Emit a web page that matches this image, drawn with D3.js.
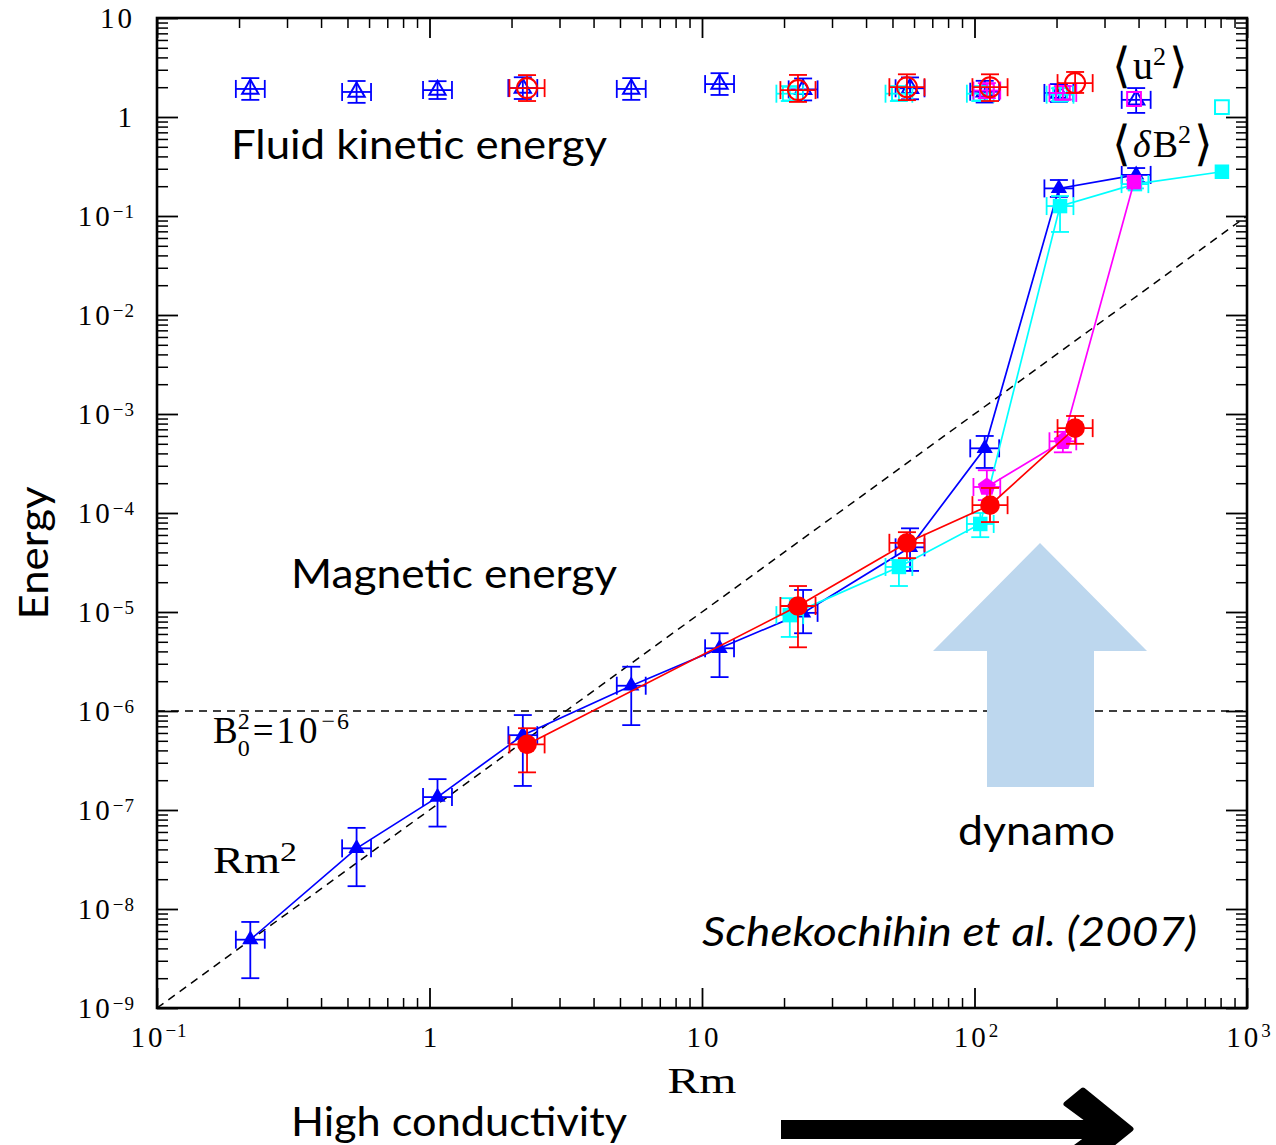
<!DOCTYPE html>
<html>
<head>
<meta charset="utf-8">
<script src="https://cdn.jsdelivr.net/npm/d3@7"></script>
<style>
  html, body { margin: 0; padding: 0; background: #fff; }
  svg { display: block; }
</style>
</head>
<body>
<svg id="chart" width="1276" height="1145"></svg>
<script>
// ---------------------------------------------------------------
// Energy vs magnetic Reynolds number Rm (log-log)
// Filled symbols: magnetic energy <dB^2>; open symbols: kinetic <u^2>
// ---------------------------------------------------------------

// Run set 1 (blue triangles)
const blueRm     = [0.22, 0.54, 1.07, 2.2, 5.5, 11.6, 23.5, 58, 109, 204, 392];
const blueMag    = [4.9e-9, 4.1e-8, 1.35e-7, 5.7e-7, 1.8e-6, 4.3e-6, 9.8e-6, 4.5e-5, 4.5e-4, 0.19, 0.26];
const blueMagLo  = [2.0e-9, 1.7e-8, 6.8e-8, 1.75e-7, 7.2e-7, 2.2e-6, 6.1e-6, 2.6e-5, 2.85e-4, 0.156, 0.22];
const blueMagHi  = [7.4e-9, 6.6e-8, 2.05e-7, 9.1e-7, 2.8e-6, 6.1e-6, 1.67e-5, 7.0e-5, 6.0e-4, 0.231, 0.305];
const blueKin    = [1.92, 1.79, 1.87, 1.96, 1.92, 2.15, 1.9, 1.95, 1.8, 1.75, 1.49];
const blueKinLo  = [1.49, 1.39, 1.52, 1.52, 1.49, 1.67, 1.47, 1.51, 1.40, 1.42, 1.10];
const blueKinHi  = [2.47, 2.31, 2.30, 2.52, 2.47, 2.77, 2.45, 2.51, 2.32, 2.15, 1.96];

// Run set 2 (red circles)
const redRm      = [2.28, 22.5, 56.5, 114, 234];
const redMag     = [4.6e-7, 1.15e-5, 5.0e-5, 1.2e-4, 7.2e-4];
const redMagLo   = [2.4e-7, 4.4e-6, 3.5e-5, 8.1e-5, 5.0e-4];
const redMagHi   = [6.7e-7, 1.83e-5, 6.4e-5, 1.79e-4, 9.55e-4];
const redKin     = [1.96, 1.87, 2.0, 2.0, 2.2];
const redKinLo   = [1.45, 1.42, 1.48, 1.45, 1.75];
const redKinHi   = [2.65, 2.66, 2.7, 2.7, 2.85];

// Run set 3 (cyan squares)
const cyanRm     = [21, 52.8, 105, 206, 388, 809];
const cyanMag    = [9.3e-6, 2.85e-5, 7.75e-5, 0.126, 0.21, 0.28];
const cyanMagLo  = [5.6e-6, 1.83e-5, 5.7e-5, 0.069, 0.19, null];
const cyanMagHi  = [1.38e-5, 3.35e-5, 1.0e-4, 0.159, 0.23, null];
const cyanKinRm  = [21, 52.8, 105, 206, 809];
const cyanKin    = [1.72, 1.72, 1.72, 1.68, 1.26];
const cyanKinLo  = [1.45, 1.45, 1.45, 1.45, null];
const cyanKinHi  = [2.05, 2.05, 2.05, 1.95, null];

// Run set 4 (magenta)
const magentaRm    = [111, 211, 385];
const magentaMag   = [1.83e-4, 5.3e-4, 0.22];
const magentaMagLo = [1.35e-4, 4.1e-4, null];
const magentaMagHi = [2.7e-4, 6.6e-4, null];
const magentaKin   = [1.85, 1.75, 1.52];
const magentaKinLo = [1.55, 1.5, null];
const magentaKinHi = [2.2, 2.05, null];

// Relative Rm uncertainty (multiplicative) of each run set
const rmErrBlue = 1.13, rmErrRed = 1.16, rmErrCyan = 1.12, rmErrMagenta = 1.12;

// Reference lines: Rm^2 scaling and the mean-field level B0^2
const rm2LineRm = [0.1, 1000];
const rm2LineE  = [1e-9, 1e-1];
const b0LineRm  = [0.1, 1000];
const b0LineE   = [1e-6, 1e-6];

// Axis ticks
const xMajor = [0.1, 1, 10, 100, 1000];
const xLabels = [["10", "\u22121"], ["1", null], ["10", null], ["10", "2"], ["10", "3"]];
const yMajor = [1e-9, 1e-8, 1e-7, 1e-6, 1e-5, 1e-4, 1e-3, 1e-2, 1e-1, 1, 10];
const yLabels = [["10", "\u22129"], ["10", "\u22128"], ["10", "\u22127"], ["10", "\u22126"],
                 ["10", "\u22125"], ["10", "\u22124"], ["10", "\u22123"], ["10", "\u22122"],
                 ["10", "\u22121"], ["1", null], ["10", null]];

// ---------------------------------------------------------------
const svg = d3.select("#chart");
const plotL = 157, plotR = 1247, plotT = 18, plotB = 1008;
const x = d3.scaleLog().domain([0.1, 1000]).range([plotL, plotR]);
const y = d3.scaleLog().domain([1e-9, 10]).range([plotB, plotT]);

const SERIF = "'Liberation Serif', 'DejaVu Serif', serif";
const SANS  = "Lato, 'Open Sans', 'Noto Sans', sans-serif";
const BRACKET = "'DejaVu Sans', sans-serif";

const minorOf = majors => majors.slice(0, -1)
  .flatMap(m => [2, 3, 4, 5, 6, 7, 8, 9].map(k => k * m));

// ----- axes: inward ticks on all four sides -----
function tickAxis(gen, transform, width) {
  const g = svg.append("g").attr("transform", transform).call(gen);
  g.select(".domain").remove();
  g.selectAll("text").remove();
  g.selectAll("line").attr("stroke", "#000").attr("stroke-width", width);
}
tickAxis(d3.axisBottom(x).tickValues(xMajor).tickSize(-20), `translate(0,${plotB})`, 1.8);
tickAxis(d3.axisBottom(x).tickValues(minorOf(xMajor)).tickSize(-10), `translate(0,${plotB})`, 1.5);
tickAxis(d3.axisTop(x).tickValues(xMajor).tickSize(-20), `translate(0,${plotT})`, 1.8);
tickAxis(d3.axisTop(x).tickValues(minorOf(xMajor)).tickSize(-10), `translate(0,${plotT})`, 1.5);
tickAxis(d3.axisLeft(y).tickValues(yMajor).tickSize(-21), `translate(${plotL},0)`, 1.8);
tickAxis(d3.axisLeft(y).tickValues(minorOf(yMajor)).tickSize(-11), `translate(${plotL},0)`, 1.5);
tickAxis(d3.axisRight(y).tickValues(yMajor).tickSize(-21), `translate(${plotR},0)`, 1.8);
tickAxis(d3.axisRight(y).tickValues(minorOf(yMajor)).tickSize(-11), `translate(${plotR},0)`, 1.5);

svg.append("rect")
  .attr("x", plotL).attr("y", plotT)
  .attr("width", plotR - plotL).attr("height", plotB - plotT)
  .attr("fill", "none").attr("stroke", "#000").attr("stroke-width", 2.6);

// ----- tick labels (power-of-ten notation) -----
function powerLabel(sel, base, exp, sup, raise) {
  sel.append("tspan").attr("letter-spacing", 3).text(base);
  if (exp) sel.append("tspan").attr("font-size", sup).attr("dy", -raise)
    .attr("letter-spacing", 1).text(exp);
}
xMajor.forEach((v, i) => {
  const t = svg.append("text")
    .attr("x", x(v) + 2).attr("y", 1047)
    .attr("text-anchor", "middle")
    .attr("font-family", SERIF).attr("font-size", 29).attr("fill", "#000");
  powerLabel(t, xLabels[i][0], xLabels[i][1], 19, 10);
});
yMajor.forEach((v, i) => {
  const t = svg.append("text")
    .attr("x", 135).attr("y", y(v) + 10)
    .attr("text-anchor", "end")
    .attr("font-family", SERIF).attr("font-size", 29).attr("fill", "#000");
  powerLabel(t, yLabels[i][0], yLabels[i][1], 19, 8);
});

// axis title Rm
svg.append("text").attr("x", 702).attr("y", 1093)
  .attr("text-anchor", "middle").attr("font-family", SERIF).attr("font-size", 36)
  .attr("textLength", 69).attr("lengthAdjust", "spacingAndGlyphs")
  .text("Rm");

// ----- reference dashed lines -----
const line = d3.line().x(d => x(d.rm)).y(d => y(d.e));
const zip = (a, b) => a.map((v, i) => ({ rm: v, e: b[i] }));
[[rm2LineRm, rm2LineE], [b0LineRm, b0LineE]].forEach(([a, b]) => {
  svg.append("path").datum(zip(a, b)).attr("d", line)
    .attr("fill", "none").attr("stroke", "#000")
    .attr("stroke-width", 1.5).attr("stroke-dasharray", "8,6");
});

// ----- series helpers -----
function points(rm, v, lo, hi, xf) {
  return rm.map((r, i) => ({
    rm: r, e: v[i], lo: lo[i], hi: hi[i],
    xf: lo[i] == null ? null : xf
  }));
}

function errorBars(g, pts, color, cap) {
  pts.forEach(p => {
    if (p.lo == null) return;
    const cx = x(p.rm), cy = y(p.e);
    const y0 = y(p.lo), y1 = y(p.hi);
    const x0 = x(p.rm / p.xf), x1 = x(p.rm * p.xf);
    const segs = [
      [cx, y0, cx, y1], [cx - cap, y0, cx + cap, y0], [cx - cap, y1, cx + cap, y1],
      [x0, cy, x1, cy], [x0, cy - cap, x0, cy + cap], [x1, cy - cap, x1, cy + cap]
    ];
    segs.forEach(s => g.append("line")
      .attr("x1", s[0]).attr("y1", s[1]).attr("x2", s[2]).attr("y2", s[3])
      .attr("stroke", color).attr("stroke-width", 1.8));
  });
}

function pentagonPath(r) {
  const pts = d3.range(5).map(k => {
    const a = -Math.PI / 2 + k * 2 * Math.PI / 5;
    return [r * Math.cos(a), r * Math.sin(a)];
  });
  return d3.line()(pts) + "Z";
}

const markers = {
  triangle: d3.symbol(d3.symbolTriangle, 115)(),
  square:   d3.symbol(d3.symbolSquare, 210)(),
  squareOpen: d3.symbol(d3.symbolSquare, 190)(),
  pentagon: pentagonPath(9.5)
};

function drawMarkers(g, pts, color, shapeOf, filled) {
  pts.forEach((p, i) => {
    const shape = shapeOf(p, i);
    let m;
    if (shape === "circle") {
      m = g.append("circle").attr("cx", x(p.rm)).attr("cy", y(p.e)).attr("r", filled ? 9.8 : 10);
    } else {
      m = g.append("path").attr("d", markers[shape])
        .attr("transform", `translate(${x(p.rm)},${y(p.e)})`);
    }
    if (filled) m.attr("fill", color).attr("stroke", "none");
    else m.attr("fill", "none").attr("stroke", color).attr("stroke-width", 2);
  });
}

function drawSeries(cfg) {
  const g = svg.append("g");
  const mag = points(cfg.rm, cfg.mag, cfg.magLo, cfg.magHi, cfg.xf);
  const kin = points(cfg.kinRm, cfg.kin, cfg.kinLo, cfg.kinHi, cfg.xf);
  // kinetic energy: open symbols with error bars, no connecting line
  errorBars(g, kin, cfg.color, 9);
  drawMarkers(g, kin, cfg.color, cfg.openShape, false);
  // magnetic energy: connected filled symbols
  g.append("path").datum(mag).attr("d", line)
    .attr("fill", "none").attr("stroke", cfg.color).attr("stroke-width", 1.7);
  errorBars(g, mag, cfg.color, 9);
  drawMarkers(g, mag, cfg.color, cfg.fillShape, true);
}

drawSeries({
  color: "#0000ff", rm: blueRm, mag: blueMag, magLo: blueMagLo, magHi: blueMagHi,
  kinRm: blueRm, kin: blueKin, kinLo: blueKinLo, kinHi: blueKinHi, xf: rmErrBlue,
  fillShape: () => "triangle", openShape: () => "triangle"
});
drawSeries({
  color: "#00ffff", rm: cyanRm, mag: cyanMag, magLo: cyanMagLo, magHi: cyanMagHi,
  kinRm: cyanKinRm, kin: cyanKin, kinLo: cyanKinLo, kinHi: cyanKinHi, xf: rmErrCyan,
  fillShape: () => "square", openShape: () => "squareOpen"
});
drawSeries({
  color: "#ff00ff", rm: magentaRm, mag: magentaMag, magLo: magentaMagLo, magHi: magentaMagHi,
  kinRm: magentaRm, kin: magentaKin, kinLo: magentaKinLo, kinHi: magentaKinHi, xf: rmErrMagenta,
  fillShape: p => (p.e > 0.01 ? "square" : "pentagon"), openShape: () => "squareOpen"
});
drawSeries({
  color: "#ff0000", rm: redRm, mag: redMag, magLo: redMagLo, magHi: redMagHi,
  kinRm: redRm, kin: redKin, kinLo: redKinLo, kinHi: redKinHi, xf: rmErrRed,
  fillShape: () => "circle", openShape: () => "circle"
});

// ----- in-plot math labels -----
function mathText(px, py, size, width) {
  const t = svg.append("text").attr("x", px).attr("y", py)
    .attr("font-family", SERIF).attr("font-size", size).attr("fill", "#000");
  if (width) t.attr("textLength", width).attr("lengthAdjust", "spacingAndGlyphs");
  return t;
}
// B0^2 = 10^-6
{
  const t = mathText(213, 743, 37);
  t.append("tspan").text("B");
  t.append("tspan").attr("font-size", 24).attr("dy", -14).text("2");
  t.append("tspan").attr("font-size", 24).attr("dx", -12).attr("dy", 27).text("0");
  t.append("tspan").attr("dy", -13).attr("dx", 3).text("=");
  t.append("tspan").attr("dx", 3).attr("letter-spacing", 4).text("10");
  t.append("tspan").attr("font-size", 24).attr("dy", -14).attr("letter-spacing", 2).text("\u22126");
}
// Rm^2
{
  const t = mathText(213, 873, 37, 84);
  t.append("tspan").text("Rm");
  t.append("tspan").attr("font-size", 27).attr("dy", -12).text("2");
}
// <u^2>
{
  const t = mathText(1112, 79, 40);
  t.append("tspan").attr("font-family", BRACKET).attr("font-weight", 200)
    .attr("font-size", 48).attr("dy", 3).text("\u27E8");
  t.append("tspan").attr("dy", -3).attr("dx", 2).text("u");
  t.append("tspan").attr("font-size", 26).attr("dy", -14).text("2");
  t.append("tspan").attr("font-family", BRACKET).attr("font-weight", 200)
    .attr("font-size", 48).attr("dy", 17).attr("dx", 3).text("\u27E9");
}
// <dB^2>
{
  const t = mathText(1112, 157, 38);
  t.append("tspan").attr("font-family", BRACKET).attr("font-weight", 200)
    .attr("font-size", 48).attr("dy", 3).text("\u27E8");
  t.append("tspan").attr("dy", -3).attr("dx", 2).attr("font-style", "italic").text("\u03B4");
  t.append("tspan").attr("dx", 2).text("B");
  t.append("tspan").attr("font-size", 26).attr("dy", -14).text("2");
  t.append("tspan").attr("font-family", BRACKET).attr("font-weight", 200)
    .attr("font-size", 48).attr("dy", 17).attr("dx", 3).text("\u27E9");
}

// ----- slide annotations -----
// dynamo arrow (light blue, upward)
svg.append("path")
  .attr("d", "M1040,543 L1147,651 L1094,651 L1094,787 L987,787 L987,651 L933,651 Z")
  .attr("fill", "#bdd7ee");

// conductivity arrow (black, rightward)
svg.append("rect").attr("x", 781).attr("y", 1120).attr("width", 325).attr("height", 19).attr("fill", "#000");
svg.append("path")
  .attr("d", "M1083,1090 L1131,1129 L1083,1168 L1066,1154 L1100,1129 L1066,1104 Z")
  .attr("fill", "#000").attr("stroke", "#000").attr("stroke-width", 5).attr("stroke-linejoin", "round");

function sansText(str, px, py, size, width, italic) {
  const t = svg.append("text").attr("x", px).attr("y", py)
    .attr("font-family", SANS).attr("font-size", size).attr("fill", "#000")
    .attr("textLength", width).attr("lengthAdjust", "spacingAndGlyphs")
    .text(str);
  if (italic) t.attr("font-style", "italic");
  return t;
}
sansText("Fluid kinetic energy", 231, 159, 41, 376);
sansText("Magnetic energy", 291, 588, 41, 326);
sansText("dynamo", 958, 845, 41, 157);
sansText("Schekochihin et al. (2007)", 702, 946, 41, 495, true);
sansText("High conductivity", 291, 1136, 41, 336);

svg.append("text")
  .attr("transform", "translate(48,553) rotate(-90)")
  .attr("text-anchor", "middle")
  .attr("font-family", SANS).attr("font-size", 41)
  .attr("textLength", 133).attr("lengthAdjust", "spacingAndGlyphs")
  .text("Energy");
</script>
</body>
</html>
